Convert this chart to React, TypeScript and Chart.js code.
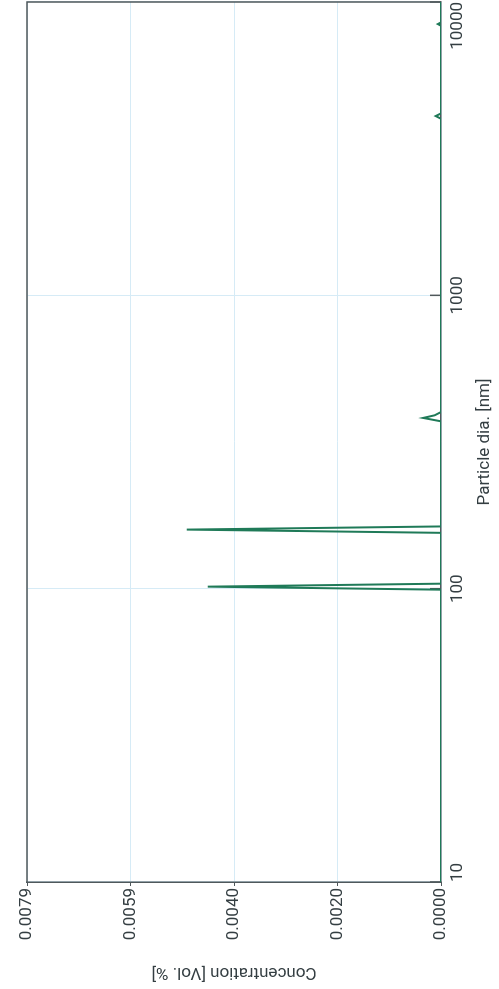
import React, { useEffect, useRef } from "react";
import { Chart, registerables } from "chart.js";

Chart.register(...registerables);

// Particle diameter [nm] and concentration [Vol. %]
const diameters = [10, 99.2, 101.6, 104, 155, 159, 163, 372, 382, 390, 400, 4000, 4085, 4170, 8300, 8410, 8520, 10000];
const concentration = [0, 0, 0.00445, 0, 0, 0.00485, 0, 0, 0.00034, 0.00012, 0, 0, 0.0001, 0, 0, 0.00006, 0, 0];

const xTickValues = [10, 100, 1000, 10000];
const xTickLabels = ["10", "100", "1000", "10000"];
const yTickValues = [0, 0.001975, 0.00395, 0.005925, 0.0079];
const yTickLabels = ["0.0000", "0.0020", "0.0040", "0.0059", "0.0079"];

const TEXT = "#343e42";
const GRID = "#d6ebf6";
const FRAME = "#4f585b";
const LINE = "#1f7a58";
const FONT = "Roboto";

const W = 989;
const H = 499;

export default function App() {
  const ref = useRef<HTMLCanvasElement | null>(null);

  useEffect(() => {
    if (!ref.current) return;
    const framePlugin = {
      id: "frame",
      beforeDatasetsDraw(chart: any) {
        const { ctx, chartArea, scales } = chart;
        ctx.save();
        ctx.strokeStyle = FRAME;
        ctx.lineWidth = 1.5;
        ctx.beginPath();
        ctx.moveTo(chartArea.left, chartArea.top);
        ctx.lineTo(chartArea.right, chartArea.top);
        ctx.lineTo(chartArea.right, chartArea.bottom);
        ctx.stroke();
        // inward ticks on the diameter axis
        xTickValues.forEach((v) => {
          const px = scales.x.getPixelForValue(v);
          ctx.beginPath();
          ctx.moveTo(px, chartArea.bottom);
          ctx.lineTo(px, chartArea.bottom - 11);
          ctx.stroke();
        });
        ctx.restore();
      },
    };

    const chart = new Chart(ref.current, {
      type: "line",
      data: {
        datasets: [
          {
            data: diameters.map((d, i) => ({ x: d, y: concentration[i] })),
            borderColor: LINE,
            borderWidth: 2,
            pointRadius: 0,
            tension: 0,
            fill: false,
          },
        ],
      },
      options: {
        responsive: false,
        animation: false,
        devicePixelRatio: 1,
        layout: { autoPadding: false, padding: { top: 27, right: 2, left: 0, bottom: 0 } },
        plugins: { legend: { display: false }, tooltip: { enabled: false } },
        scales: {
          x: {
            type: "logarithmic",
            min: 10,
            max: 10000,
            afterBuildTicks: (s: any) => {
              s.ticks = xTickValues.map((v) => ({ value: v }));
            },
            afterFit: (s: any) => {
              s.height = 58;
            },
            ticks: {
              align: "inner",
              autoSkip: false,
              maxRotation: 0,
              padding: 0,
              color: TEXT,
              font: { family: FONT, size: 17 },
              callback: (v: any) => {
                const i = xTickValues.indexOf(Number(v));
                return i >= 0 ? xTickLabels[i] : "";
              },
            },
            grid: { color: GRID, lineWidth: 1, drawTicks: true, tickLength: 7, tickColor: "rgba(0,0,0,0)" },
            border: { color: FRAME, width: 1.5 },
            title: {
              display: true,
              text: "Particle dia. [nm]",
              color: TEXT,
              font: { family: FONT, size: 17 },
              padding: { top: 2, bottom: 4 },
            },
          },
          y: {
            min: 0,
            max: 0.0079,
            afterBuildTicks: (s: any) => {
              s.ticks = yTickValues.map((v) => ({ value: v }));
            },
            afterFit: (s: any) => {
              s.width = 107;
            },
            ticks: {
              padding: 2,
              color: TEXT,
              font: { family: FONT, size: 17 },
              callback: (v: any, i: number) => yTickLabels[i] ?? "",
            },
            grid: { color: GRID, lineWidth: 1, tickLength: 4, tickColor: FRAME },
            border: { color: FRAME, width: 1.5 },
            title: {
              display: true,
              text: "Concentration [Vol. %]",
              color: TEXT,
              font: { family: FONT, size: 17 },
              padding: { top: 7, bottom: 4 },
            },
          },
        },
      },
      plugins: [framePlugin],
    } as any);
    return () => chart.destroy();
  }, []);

  return (
    <div
      style={{
        position: "fixed",
        left: 0,
        top: 0,
        width: H,
        height: W,
        overflow: "hidden",
        background: "#ffffff",
      }}
    >
      <div
        style={{
          position: "absolute",
          left: 0,
          top: 0,
          width: W,
          height: H,
          transformOrigin: "0 0",
          transform: `translate(0px, ${W}px) rotate(-90deg)`,
        }}
      >
        <canvas ref={ref} width={W} height={H} style={{ display: "block" }} />
      </div>
    </div>
  );
}
